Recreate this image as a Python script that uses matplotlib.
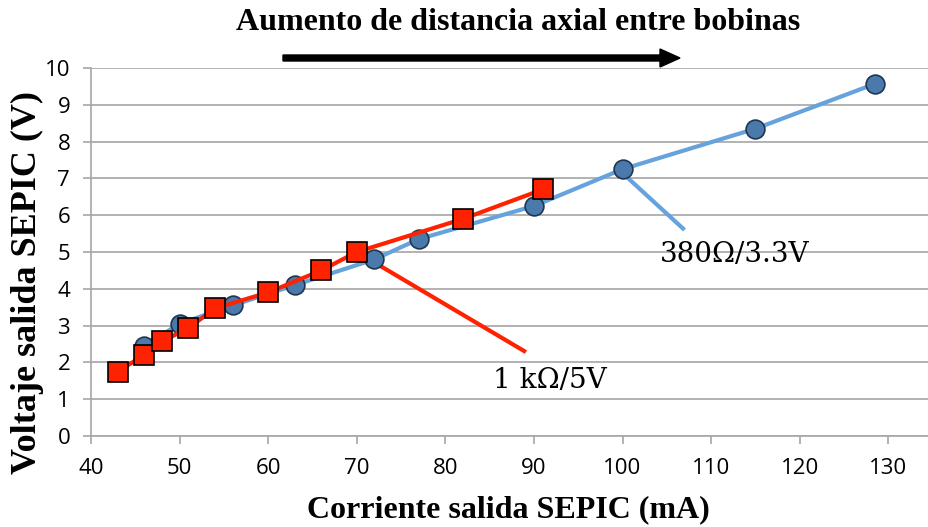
import matplotlib
matplotlib.use("Agg")
import matplotlib.pyplot as plt

# Series: output current (mA) vs SEPIC output voltage (V)
i_380 = [46, 50, 56, 63, 72, 77, 90, 100, 115, 128.5]
v_380 = [2.45, 3.05, 3.55, 4.1, 4.8, 5.35, 6.25, 7.25, 8.35, 9.57]
i_1k = [43, 46, 48, 51, 54, 60, 66, 70, 82, 91]
v_1k = [1.75, 2.2, 2.57, 2.93, 3.47, 3.9, 4.5, 5.0, 5.9, 6.7]

x_ticks = [40, 50, 60, 70, 80, 90, 100, 110, 120, 130]
y_ticks = list(range(0, 11))

label_380 = "380Ω/3.3V"
label_1k = "1 kΩ/5V"
title = "Aumento de distancia axial entre bobinas"
xlabel = "Corriente salida SEPIC (mA)"
ylabel = "Voltaje salida SEPIC (V)"

blue_line = "#66a3dc"
blue_fill = "#4a7aac"
red = "#ff2200"
grid_c = "#a6a6a6"

fig = plt.figure(figsize=(9.29, 5.27), dpi=100)
ax = fig.add_axes([91 / 929, 91 / 527, 1 - 91 / 929, 368 / 527])

ax.set_xlim(40, 134.6)
ax.set_ylim(0, 10)
ax.set_xticks(x_ticks)
ax.set_yticks(y_ticks)
ax.yaxis.grid(True, color=grid_c, linewidth=1.2)
ax.set_axisbelow(True)
for s in ("top", "right"):
    ax.spines[s].set_visible(False)
for s in ("left", "bottom"):
    ax.spines[s].set_color(grid_c)
    ax.spines[s].set_linewidth(1.2)
ax.tick_params(axis="both", colors=grid_c, length=6, width=1.2, labelsize=16,
               labelcolor="black")
ax.tick_params(axis="x", pad=10)
ax.tick_params(axis="y", pad=9)
for lbl in ax.get_xticklabels() + ax.get_yticklabels():
    lbl.set_family("Open Sans")

# leader lines for the series labels
ax.plot([100.2, 107.0], [7.1, 5.6], color=blue_line, lw=3, solid_capstyle="butt", zorder=2)
ax.plot([70, 89.1], [5.0, 2.28], color=red, lw=3, solid_capstyle="butt", zorder=2)

ax.plot(i_380, v_380, color=blue_line, lw=3, marker="o", ms=13.5,
        markerfacecolor=blue_fill, markeredgecolor="#1f3550", markeredgewidth=1.2, zorder=3)
ax.plot(i_1k, v_1k, color=red, lw=3, marker="s", ms=14,
        markerfacecolor=red, markeredgecolor="black", markeredgewidth=1.2, zorder=4)

ax.text(112.7, 4.92, label_380, fontsize=20, family="DejaVu Serif", ha="center", va="center")
ax.text(91.8, 1.52, label_1k, fontsize=20, family="DejaVu Serif", ha="center", va="center")

fig.text(518 / 929, 1 - 22 / 527, title, ha="center", va="center", fontsize=23,
         family="Liberation Serif", weight="bold")
fig.text(508 / 929, 1 - 510 / 527, xlabel, ha="center", va="center", fontsize=23,
         family="Liberation Serif", weight="bold")
fig.text(27 / 929, 1 - 283 / 527, ylabel, ha="center", va="center", rotation=90,
         fontsize=26, family="Liberation Serif", weight="bold")

# direction arrow under the title
fig.patches.append(matplotlib.patches.FancyArrow(
    283 / 929, 1 - 58 / 527, (660 - 283) / 929, 0, width=6 / 527,
    head_width=18 / 527, head_length=20 / 929, length_includes_head=False,
    color="black", transform=fig.transFigure, figure=fig))

fig.savefig("out.png", dpi=100)
